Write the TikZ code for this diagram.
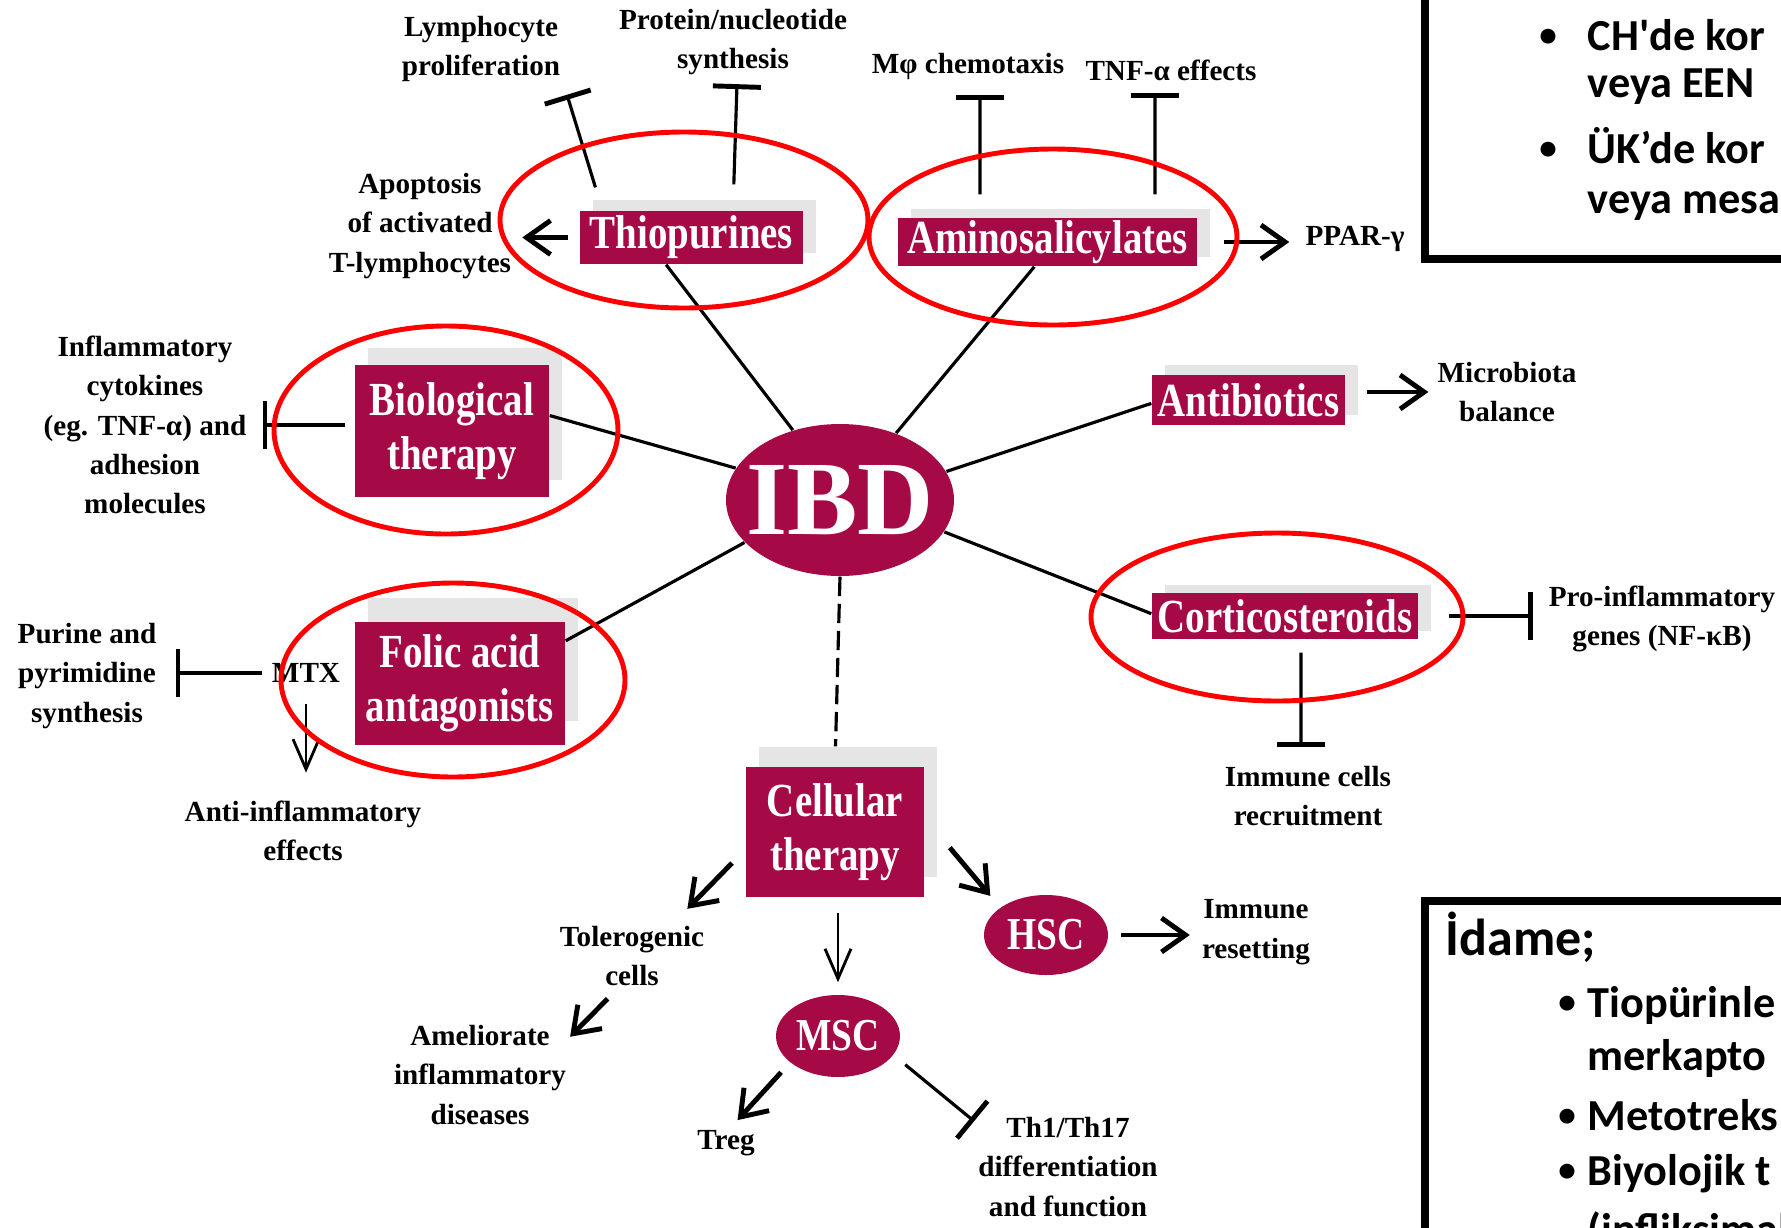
\documentclass[tikz,border=0pt]{standalone}
\usepackage{fontspec}
\setmainfont{Liberation Serif}
\newfontfamily\narrowserif[FakeStretch=0.82]{Liberation Serif}
\newfontfamily\slidefont{Carlito}
\usetikzlibrary{shapes.geometric,arrows.meta,shadows}
\definecolor{ibdwine}{RGB}{166,10,70}
\definecolor{shadowgray}{RGB}{229,229,229}
\tikzset{
  drug/.style={fill=ibdwine, text=white, inner sep=0pt, align=center,
    font=\narrowserif\bfseries\fontsize{13.5}{15.5}\selectfont,
    general shadow={fill=shadowgray, shadow xshift=1.3mm, shadow yshift=#1}},
  drug/.default=1.1mm,
  cellpop/.style={ellipse, fill=ibdwine, text=white, inner sep=0pt,
    font=\narrowserif\bfseries\fontsize{13}{15}\selectfont},
  lbl/.style={align=center, inner sep=1pt, font=\bfseries\fontsize{8.3}{11.2}\selectfont},
  link/.style={line width=0.9pt},
  arr/.style={line width=1.4pt, -{Straight Barb[length=2.4mm,width=3.4mm]}},
  thinarr/.style={line width=0.8pt, -{Straight Barb[length=3mm,width=2.6mm]}},
  inh/.style={line width=0.9pt, -{Bar[width=4.8mm,line width=1.4pt]}},
  ring/.style={draw=red, line width=1.4pt},
  slide/.style={anchor=base west, inner sep=0pt, font=\slidefont\bfseries\fontsize{12.6}{15}\selectfont},
  bulletmark/.style={anchor=base, inner sep=0pt, font=\slidefont\bfseries\fontsize{10}{12}\selectfont},
}
\begin{document}
\begin{tikzpicture}[x=0.1mm,y=-0.1mm]
  \useasboundingbox (0,0) rectangle (1781,1228);
  \clip (0,0) rectangle (1781,1228);
  % centre and drug classes
  \path (840,500) node[ellipse, fill=ibdwine, text=white, minimum width=22.8mm, minimum height=15.2mm, inner xsep=-3mm, inner ysep=0pt, font=\bfseries\fontsize{30}{31}\selectfont] (ibd) {IBD};
  \path (691.5,237.5) node[drug, minimum width=22.3mm, minimum height=5.3mm] (thio) {Thiopurines};
  \path (1047.5,242) node[drug=0.9mm, minimum width=29.9mm, minimum height=4.8mm] (amino) {Aminosalicylates};
  \path (452,431) node[drug=1.7mm, minimum width=19.4mm, minimum height=13.2mm] (bio) {Biological\\therapy};
  \path (460,683.5) node[drug=2.4mm, minimum width=21mm, minimum height=12.3mm] (folic) {Folic acid\\antagonists};
  \path (1248.5,400) node[drug=1mm, minimum width=19.3mm, minimum height=5mm] (anti) {Antibiotics};
  \path (1285,616) node[drug=0.8mm, minimum width=26.6mm, minimum height=4.6mm] (cortico) {Corticosteroids};
  \path (835,832) node[drug=2mm, minimum width=17.8mm, minimum height=13mm] (cell) {Cellular\\therapy};
  \path (838,1036) node[cellpop, minimum width=12.4mm, minimum height=8.2mm] (msc) {MSC};
  \path (1046,935) node[cellpop, minimum width=12.4mm, minimum height=8mm] (hsc) {HSC};
  % effect labels
  \path (481,49) node[lbl] (lymph) {Lymphocyte\\proliferation};
  \path (733,42) node[lbl] (prot) {Protein/nucleotide\\synthesis};
  \path (968,66) node[lbl] (mphi) {Mφ chemotaxis};
  \path (1171,70) node[lbl] (tnf) {TNF-α effects};
  \path (1355,239) node[lbl] (ppar) {PPAR-γ};
  \path (420,226) node[lbl] (apo) {Apoptosis\\of activated\\T-lymphocytes};
  \path (145,425) node[lbl] (infl) {Inflammatory\\cytokines\\(eg. TNF-α) and\\adhesion\\molecules};
  \path (1507,392) node[lbl] (micro) {Microbiota\\balance};
  \path (1662,619) node[lbl] (proinf) {Pro-inflammatory\\genes (NF-κB)};
  \path (1308,796) node[lbl] (imc) {Immune cells\\recruitment};
  \path (87,676) node[lbl] (purine) {Purine and\\pyrimidine\\synthesis};
  \path (306,673) node[lbl] (mtx) {MTX};
  \path (303,831) node[lbl] (antiinf) {Anti-inflammatory\\effects};
  \path (632,956) node[lbl] (tol) {Tolerogenic\\cells};
  \path (480,1075) node[lbl] (amel) {Ameliorate\\inflammatory\\diseases};
  \path (1256,932) node[lbl] (imres) {Immune\\resetting};
  \path (726,1143) node[lbl] (treg) {Treg};
  \path (1068,1167) node[lbl] (th) {Th1/Th17\\differentiation\\and function};
  % spokes
  \draw[link] (thio.227) -- (ibd.124);
  \draw[link] (amino.242) -- (ibd.50);
  \draw[link] (bio.9) -- (ibd.163);
  \draw[link] (folic.22) -- (ibd.204);
  \draw[link] (anti.182) -- (ibd.15);
  \draw[link] (cortico.179) -- (ibd.343);
  \draw[link, dash pattern=on 5.5pt off 2.2pt, shorten >=2mm] (ibd.south) -- (cell.north);
  % thiopurines
  \draw[arr, shorten <=1.1mm, shorten >=0.7mm] (thio.west) -- (thio.west -| apo.east);
  \draw[inh, shorten <=2.4mm, shorten >=0.9mm] (thio.163) -- (lymph.south east);
  \draw[inh, shorten <=2.6mm] (thio.north -| prot.south) -- ([shift={(4,5)}]prot.south);
  % aminosalicylates
  \draw[inh, shorten <=2.3mm] ([xshift=1.2mm]mphi.south |- amino.north) -- ([shift={(12,12)}]mphi.south);
  \draw[inh, shorten <=2.3mm] ([xshift=-1.6mm]tnf.south |- amino.north) -- ([shift={(-16,8)}]tnf.south);
  \draw[arr, shorten <=2.6mm, shorten >=1.2mm] (amino.east) -- (amino.east -| ppar.west);
  % biological, folic acid
  \draw[inh, shorten <=0.9mm] (bio.west |- infl) -- ([xshift=1.2mm]infl.east);
  \draw[inh, shorten <=0.6mm] (mtx.west) -- ([xshift=1.5mm]purine.east |- mtx.west);
  \draw[thinarr, shorten <=1.7mm, shorten >=2.4mm] (mtx.south) -- (mtx.south |- antiinf.north);
  % antibiotics, corticosteroids
  \draw[arr, shorten <=2.1mm, shorten >=0.5mm] (anti.east |- micro.west) -- (micro.west);
  \draw[inh, shorten <=3mm] (cortico.east) -- ([xshift=-1.2mm]cortico.east -| proinf.west);
  \draw[inh, shorten <=1.3mm] ([xshift=-0.7mm]imc.north |- cortico.south) -- ([shift={(-7,-15)}]imc.north);
  % cellular therapy
  \draw[arr, shorten <=1.9mm] (cell.191) -- ([shift={(-21,-13)}]tol.north east);
  \draw[arr, shorten <=1.2mm] (tol.245) -- (amel.23);
  \draw[thinarr, shorten <=1.5mm, shorten >=1.2mm] (cell.south -| msc.north) -- (msc.north);
  \draw[arr, shorten <=3.9mm, shorten >=1.5mm] (cell.9) -- (hsc.149);
  \draw[arr, shorten <=1.2mm, shorten >=0.8mm] (hsc.east) -- (hsc.east -| imres.west);
  \draw[arr, shorten <=1.3mm, shorten >=0.8mm] (msc.209) -- (treg.70);
  \draw[inh, shorten <=1.5mm] (msc.-19) -- (th.154);
  % red marks
  \draw[ring] (684,220) ellipse [x radius=18.4mm, y radius=8.8mm];
  \draw[ring] (1053,237) ellipse [x radius=18.4mm, y radius=8.8mm];
  \draw[ring] (446,430) ellipse [x radius=17.2mm, y radius=10.4mm];
  \draw[ring] (453,680) ellipse [x radius=17.2mm, y radius=9.7mm];
  \draw[ring] (1277,617) ellipse [x radius=18.6mm, y radius=8.4mm];
  % slide text boxes
  \draw[line width=2pt] (1425,-20) -- (1425,259) -- (1800,259);
  \path (1548,46) node[bulletmark] (b1) {•};
  \path (1587,50) node[slide] (ch) {CH\textquotesingle de kor};
  \path (1587,97) node[slide] (een) {veya EEN};
  \path (1548,159) node[bulletmark] (b2) {•};
  \path (1587,163) node[slide] (uk) {ÜK’de kor};
  \path (1587,213) node[slide] (mesa) {veya mesa};
  \draw[line width=2pt] (1425,1250) -- (1425,901) -- (1800,901);
  \path (1445,955) node[slide, font=\slidefont\bfseries\fontsize{14.8}{18}\selectfont] (idame) {İdame;};
  \path (1567,1013) node[bulletmark] (b3) {•};
  \path (1587,1017) node[slide] (tio) {Tiopürinle};
  \path (1587,1070) node[slide] (merk) {merkapto};
  \path (1567,1126) node[bulletmark] (b4) {•};
  \path (1587,1130) node[slide] (mtx2) {Metotreks};
  \path (1567,1181) node[bulletmark] (b5) {•};
  \path (1587,1185) node[slide] (biyo) {Biyolojik t};
  \path (1587,1244) node[slide] (inf) {(infliksimab};
\end{tikzpicture}
\end{document}
